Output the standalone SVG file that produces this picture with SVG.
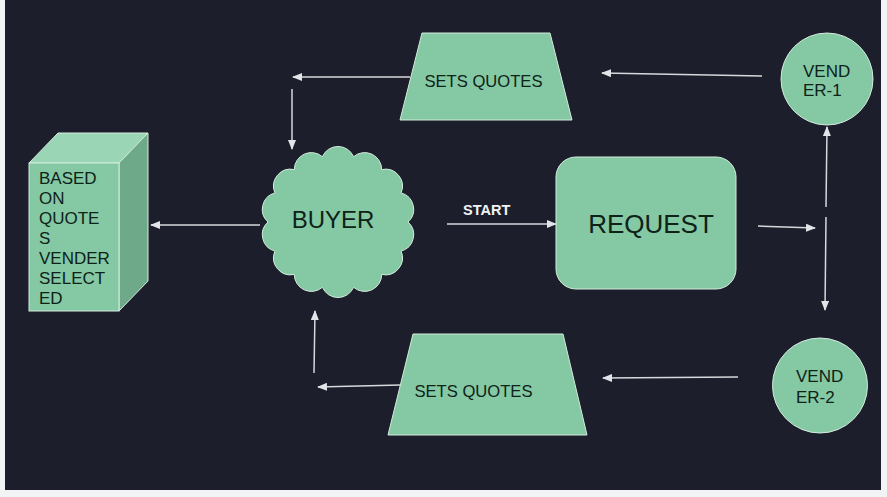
<svg xmlns="http://www.w3.org/2000/svg" width="887" height="497" viewBox="0 0 887 497">
  <style>
    .shape { fill: #84c8a4; stroke: #d4ebdd; stroke-width: 1; }
    .lbl { font-family: "Liberation Sans", Arial, sans-serif; fill: #0e2218; }
    .conn { stroke: #d6d8dc; stroke-width: 1.5; fill: none; marker-end: url(#arrow); }
    .plain { stroke: #d6d8dc; stroke-width: 1.5; fill: none; }
  </style>
  <defs>
    <marker id="arrow" markerUnits="userSpaceOnUse" markerWidth="10" markerHeight="8" refX="9" refY="4" orient="auto">
      <path d="M0,0 L10,4 L0,8 Z" fill="#e2e4e8"/>
    </marker>
  </defs>

  <rect x="0" y="0" width="887" height="497" fill="#f2f3f5"/>
  <rect x="5" y="0" width="876" height="490" fill="#1c1f2b"/>

  <g id="connectors">
    <line class="conn" x1="410" y1="77" x2="293" y2="77"/>
    <line class="conn" x1="292" y1="89" x2="292" y2="149"/>
    <line class="conn" x1="260" y1="225" x2="151" y2="225"/>
    <line class="conn" x1="447" y1="224" x2="556" y2="224"/>
    <line class="conn" x1="758" y1="226" x2="815" y2="228"/>
    <line class="conn" x1="826" y1="207" x2="827" y2="127"/>
    <line class="conn" x1="826" y1="217" x2="825" y2="310"/>
    <line class="conn" x1="762" y1="76" x2="602" y2="73"/>
    <line class="conn" x1="738" y1="377" x2="603" y2="378"/>
    <line class="conn" x1="400" y1="385" x2="318" y2="387"/>
    <line class="conn" x1="314" y1="373" x2="315" y2="311"/>
    <text x="463" y="215" font-family="Liberation Sans, Arial, sans-serif" font-size="14.5" font-weight="bold" fill="#f2f3f5">START</text>
  </g>

  <g id="box-selected">
    <polygon points="29,163 58,133 148,133 119,163" fill="#9ad5b5" stroke="#d4ebdd" stroke-width="1"/>
    <polygon points="119,163 148,133 148,281 119,311" fill="#6ea98a" stroke="#d4ebdd" stroke-width="1"/>
    <rect x="29" y="163" width="90" height="148" fill="#84c8a4" stroke="#d4ebdd" stroke-width="1"/>
    <text class="lbl" font-size="17" x="39">
      <tspan x="39" y="183.5">BASED</tspan>
      <tspan x="39" y="203.5">ON</tspan>
      <tspan x="39" y="223.5">QUOTE</tspan>
      <tspan x="39" y="243.5">S</tspan>
      <tspan x="39" y="263.5">VENDER</tspan>
      <tspan x="39" y="283.5">SELECT</tspan>
      <tspan x="39" y="303.5">ED</tspan>
    </text>
  </g>

  <g id="buyer">
    <path class="shape" d="M408,222 A17,17 0 0 1 401.1,251.1 A17,17 0 0 1 381.7,274.4 A17,17 0 0 1 353.6,287.3 A17,17 0 0 1 322.4,287.3 A17,17 0 0 1 294.3,274.4 A17,17 0 0 1 274.9,251.1 A17,17 0 0 1 268,222 A17,17 0 0 1 274.9,192.9 A17,17 0 0 1 294.3,169.6 A17,17 0 0 1 322.4,156.7 A17,17 0 0 1 353.6,156.7 A17,17 0 0 1 381.7,169.6 A17,17 0 0 1 401.1,192.9 A17,17 0 0 1 408,222 Z"/>
    <text class="lbl" x="333" y="228" font-size="24" text-anchor="middle">BUYER</text>
  </g>

  <g id="quotes-top">
    <polygon class="shape" points="422,33 550,33 572,120 400,120"/>
    <text class="lbl" x="483.5" y="87" font-size="16.6" text-anchor="middle">SETS QUOTES</text>
  </g>

  <g id="quotes-bottom">
    <polygon class="shape" points="413,334 563,334 587,435 388,435"/>
    <text class="lbl" x="473.5" y="397" font-size="16.6" text-anchor="middle">SETS QUOTES</text>
  </g>

  <g id="request">
    <rect class="shape" x="556" y="157" width="180" height="132" rx="20" ry="20"/>
    <text class="lbl" x="651" y="233" font-size="26" text-anchor="middle">REQUEST</text>
  </g>

  <g id="vendor-1">
    <circle class="shape" cx="827" cy="79" r="46"/>
    <text class="lbl" font-size="17">
      <tspan x="803" y="76.5">VEND</tspan>
      <tspan x="803" y="95.5">ER-1</tspan>
    </text>
  </g>

  <g id="vendor-2">
    <circle class="shape" cx="820" cy="385.5" r="47.5"/>
    <text class="lbl" font-size="17">
      <tspan x="796" y="382">VEND</tspan>
      <tspan x="796" y="403">ER-2</tspan>
    </text>
  </g>
</svg>
